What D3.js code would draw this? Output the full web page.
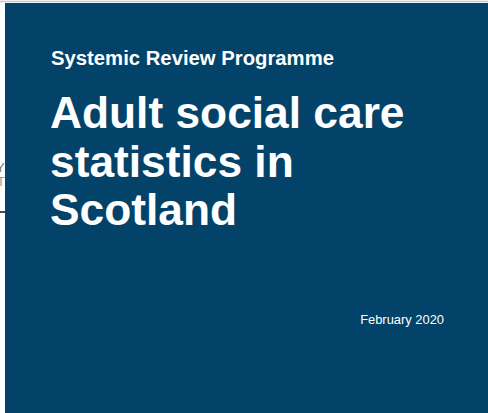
<!DOCTYPE html>
<html>
<head>
<meta charset="utf-8">
<script src="https://cdn.jsdelivr.net/npm/d3@7"></script>
<style>
  body { margin: 0; background: #fff; }
  svg { display: block; font-family: "Liberation Sans", Arial, sans-serif; }
</style>
</head>
<body>
<div id="chart"></div>
<script>
const kicker = ['Systemic Review Programme'];
const titleLines = ['Adult social care', 'statistics in', 'Scotland'];
const dateLines = ['February 2020'];

const width = 488;
const height = 413;

const svg = d3.select('#chart')
    .append('svg')
    .attr('width', width)
    .attr('height', height);

// page peeking out behind the cover
svg.append('line')
    .attr('x1', 0).attr('x2', width)
    .attr('y1', 1.5).attr('y2', 1.5)
    .attr('stroke', '#c8c8c8')
    .attr('stroke-width', 1.5);
svg.append('text')
    .attr('x', -4).attr('y', 172)
    .attr('font-size', 13)
    .attr('fill', '#777')
    .text('Y');
svg.append('text')
    .attr('x', -3).attr('y', 186)
    .attr('font-size', 13)
    .attr('fill', '#999')
    .text('T');
svg.append('line')
    .attr('x1', 0).attr('x2', 6)
    .attr('y1', 212).attr('y2', 212)
    .attr('stroke', '#111')
    .attr('stroke-width', 1.5);

svg.append('rect')
    .attr('x', 5)
    .attr('y', 3)
    .attr('width', width - 5)
    .attr('height', height - 3)
    .attr('fill', '#03436a');

svg.selectAll('text.kicker')
    .data(kicker)
    .enter().append('text')
    .attr('class', 'kicker')
    .attr('x', 51)
    .attr('y', 65)
    .attr('font-size', 20.3)
    .attr('font-weight', 'bold')
    .attr('fill', '#fff')
    .text((d) => d);

const lineY = d3.scalePoint()
    .domain(titleLines)
    .range([128, 225]);

svg.selectAll('text.title')
    .data(titleLines)
    .enter().append('text')
    .attr('class', 'title')
    .attr('x', 50)
    .attr('y', (d) => lineY(d))
    .attr('font-size', 44.3)
    .attr('font-weight', 'bold')
    .attr('fill', '#fff')
    .text((d) => d);

svg.selectAll('text.date')
    .data(dateLines)
    .enter().append('text')
    .attr('class', 'date')
    .attr('x', 444)
    .attr('y', 324)
    .attr('text-anchor', 'end')
    .attr('font-size', 12.9)
    .attr('fill', '#fff')
    .text((d) => d);
</script>
</body>
</html>
